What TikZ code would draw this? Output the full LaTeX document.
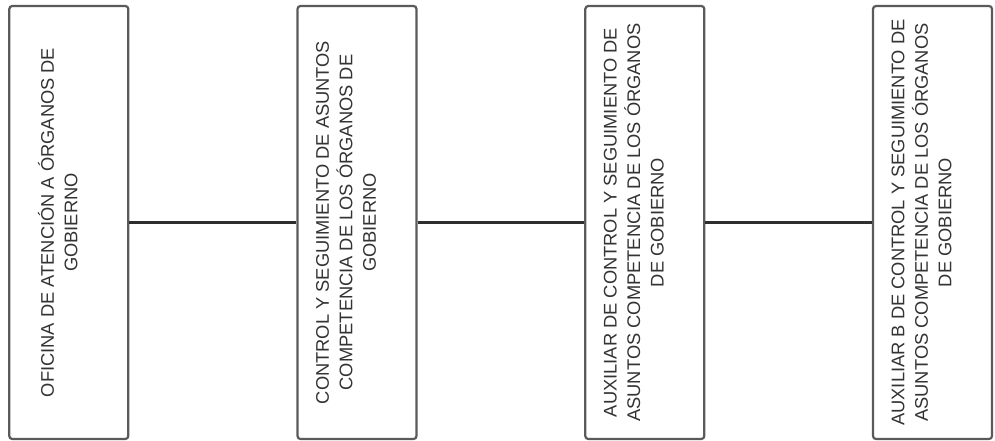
\documentclass[tikz,border=0pt]{standalone}
\usepackage{fontspec}
\setmainfont{Liberation Sans}
\definecolor{boxgray}{HTML}{5A5A5A}
\definecolor{linedark}{HTML}{2E2E2E}
\definecolor{txt}{HTML}{333333}
\begin{document}
\begin{tikzpicture}[x=1pt,y=-1pt,
  orgbox/.style={draw=boxgray, line width=2.2pt, rounded corners=3pt, minimum width=119pt, minimum height=433pt, inner sep=0pt, fill=white},
  lbl/.style={rotate=90, align=center, text=txt, font=\fontsize{18.3}{23.5}\selectfont, inner sep=0pt},
  link/.style={draw=linedark, line width=2.6pt}]
\useasboundingbox (0,0) rectangle (995,441);
\node[orgbox] (b1) at (68.8,222.5) {};
\node[orgbox] (b2) at (357,222.5) {};
\node[orgbox] (b3) at (644.8,222.5) {};
\node[orgbox] (b4) at (932.5,222.5) {};
\draw[link] (b1.east) -- (b2.west);
\draw[link] (b2.east) -- (b3.west);
\draw[link] (b3.east) -- (b4.west);
\node[lbl] (t1) at ([xshift=-11pt]b1.center) {OFICINA DE ATENCIÓN A ÓRGANOS DE\\GOBIERNO};
\node[lbl] (t2) at ([xshift=-11pt]b2.center) {CONTROL Y SEGUIMIENTO DE ASUNTOS\\COMPETENCIA DE LOS ÓRGANOS DE\\GOBIERNO};
\node[lbl] (t3) at ([xshift=-11pt]b3.center) {AUXILIAR DE CONTROL Y SEGUIMIENTO DE\\ASUNTOS COMPETENCIA DE LOS ÓRGANOS\\DE GOBIERNO};
\node[lbl] (t4) at ([xshift=-11pt]b4.center) {AUXILIAR B DE CONTROL Y SEGUIMIENTO DE\\ASUNTOS COMPETENCIA DE LOS ÓRGANOS\\DE GOBIERNO};
\end{tikzpicture}
\end{document}
